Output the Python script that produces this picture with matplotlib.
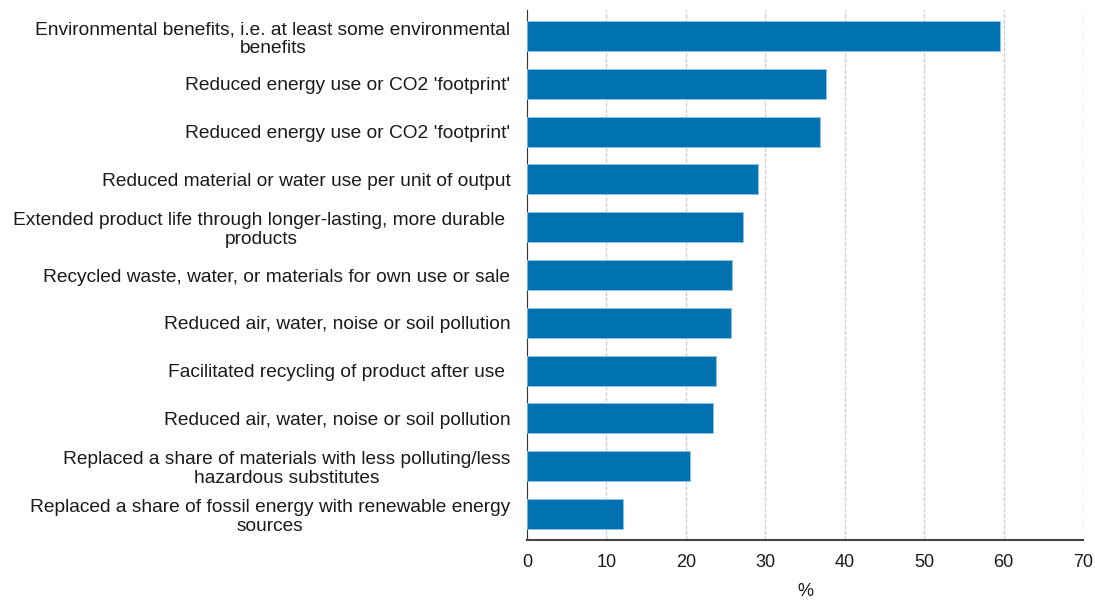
import matplotlib.pyplot as plt

categories = [
    "Environmental benefits, i.e. at least some environmental\nbenefits",
    "Reduced energy use or CO2 'footprint'",
    "Reduced energy use or CO2 'footprint'",
    "Reduced material or water use per unit of output",
    "Extended product life through longer-lasting, more durable \nproducts",
    "Recycled waste, water, or materials for own use or sale",
    "Reduced air, water, noise or soil pollution",
    "Facilitated recycling of product after use ",
    "Reduced air, water, noise or soil pollution",
    "Replaced a share of materials with less polluting/less\nhazardous substitutes",
    "Replaced a share of fossil energy with renewable energy\nsources",
]
values = [59.6, 37.7, 36.9, 29.1, 27.2, 25.8, 25.7, 23.8, 23.4, 20.5, 12.1]
x_ticks = [0, 10, 20, 30, 40, 50, 60, 70]

plt.rcParams['font.family'] = ['Liberation Sans', 'DejaVu Sans']

fig = plt.figure(figsize=(10.95, 6.02), dpi=100)
ax = fig.add_axes([527 / 1095, 62 / 602, 556 / 1095, 530 / 602])

pos = list(range(len(categories)))
ax.barh(pos, values, height=0.63, color='#0072b0', edgecolor='#8ec5e6', linewidth=0.6, zorder=3)
ax.set_ylim(10.544, -0.544)
ax.set_yticks(pos)
ax.set_yticklabels(categories, fontsize=13.8, color='#1a1a1a', multialignment='center',
                   linespacing=1.15)
ax.tick_params(axis='y', length=0, pad=12)

ax.set_xlim(0, 70)
ax.set_xticks(x_ticks)
ax.tick_params(axis='x', length=0, pad=10, labelsize=13, labelcolor='#1a1a1a')
ax.set_xlabel('%', fontsize=13, color='#1a1a1a', labelpad=9)

ax.grid(axis='x', color='#d0d0d0', linestyle=(0, (3, 1)), linewidth=1, zorder=0)
for s in ['top', 'right']:
    ax.spines[s].set_visible(False)
ax.spines['left'].set_color('#333333')
ax.spines['bottom'].set_color('#444444')
ax.spines['bottom'].set_linewidth(1.5)

fig.savefig('out.png', dpi=100)
